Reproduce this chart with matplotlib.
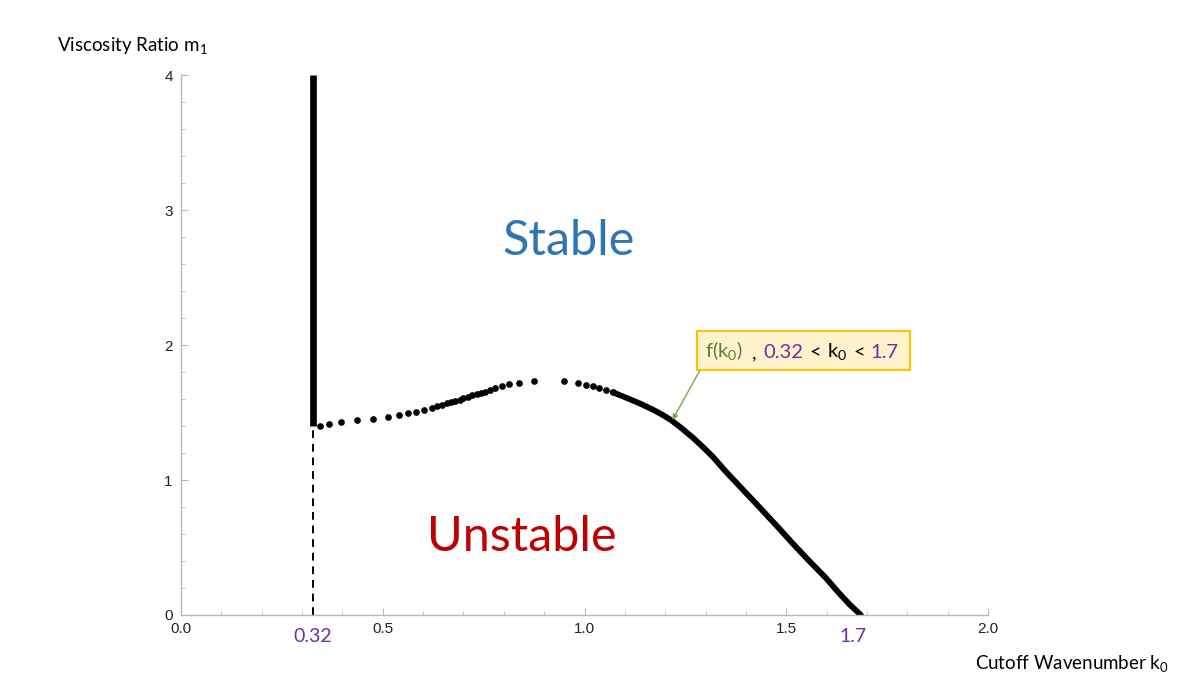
import matplotlib
matplotlib.use("Agg")
import matplotlib.pyplot as plt
from matplotlib.patches import Rectangle
from matplotlib.ticker import MultipleLocator

# Critical wavenumber, its neighbourhood and the stability boundary f(k0)
k_min = 0.328
m_corner = 1.40
m_top = 4.0

# sparse dots (numerical samples) along the boundary
k_dots = [0.344, 0.367, 0.396, 0.436, 0.477, 0.512, 0.540, 0.563, 0.583, 0.602,
          0.621, 0.634, 0.648, 0.659, 0.670, 0.680, 0.691, 0.700, 0.711, 0.722,
          0.733, 0.743, 0.754, 0.766, 0.777, 0.795, 0.814, 0.837, 0.875, 0.948,
          0.983, 1.004, 1.021, 1.037, 1.054, 1.070]
m_dots = [1.400, 1.417, 1.430, 1.444, 1.454, 1.467, 1.481, 1.496, 1.506, 1.519,
          1.533, 1.546, 1.558, 1.568, 1.576, 1.585, 1.595, 1.605, 1.615, 1.627,
          1.637, 1.647, 1.654, 1.667, 1.679, 1.694, 1.709, 1.719, 1.733, 1.733,
          1.719, 1.706, 1.696, 1.684, 1.667, 1.650]

# dense part, drawn as a thick line
k_curve = [1.070, 1.111, 1.140, 1.169, 1.192, 1.215, 1.240, 1.268, 1.295, 1.318,
           1.351, 1.392, 1.433, 1.475, 1.516, 1.557, 1.598, 1.630, 1.658, 1.685]
m_curve = [1.650, 1.600, 1.563, 1.522, 1.485, 1.443, 1.385, 1.315, 1.240, 1.172,
           1.060, 0.930, 0.800, 0.665, 0.530, 0.400, 0.275, 0.165, 0.075, 0.000]

xticks = [0.0, 0.5, 1.0, 1.5, 2.0]
yticks = [0, 1, 2, 3, 4]

W, H = 1199, 677
plt.rcParams['mathtext.fontset'] = 'custom'
plt.rcParams['mathtext.rm'] = 'Lato'

fig = plt.figure(figsize=(W / 100, H / 100), dpi=100)
ax = fig.add_axes([181 / W, 1 - 615 / H, 807 / W, 540 / H])

# boundary pieces
ax.plot([k_min, k_min], [m_corner, m_top], color='black', lw=4.8, solid_capstyle='butt')
ax.plot([k_min, k_min], [0, m_corner], color='black', lw=1.4, dashes=(4, 3))
ax.plot(k_dots, m_dots, 'o', color='black', ms=3.8)
ax.plot(k_curve, m_curve, color='black', lw=4.2, solid_capstyle='round',
        solid_joinstyle='round')

ax.set_xlim(0, 2)
ax.set_ylim(0, 4)
ax.set_xticks(xticks)
ax.set_xticklabels(['0.0', '0.5', '1.0', '1.5', '2.0'])
ax.set_yticks(yticks)
ax.xaxis.set_minor_locator(MultipleLocator(0.1))
ax.yaxis.set_minor_locator(MultipleLocator(0.2))
for s in ['top', 'right']:
    ax.spines[s].set_visible(False)
for s in ['left', 'bottom']:
    ax.spines[s].set_color('#b8b8b8')
    ax.spines[s].set_linewidth(1.0)
ax.tick_params(which='both', direction='in', color='#b8b8b8', labelsize=11,
               labelcolor='#222222')
ax.tick_params(axis='x', pad=5)
ax.tick_params(axis='y', pad=6)
ax.tick_params(which='major', length=5)
ax.tick_params(which='minor', length=3)
for lab in ax.get_xticklabels() + ax.get_yticklabels():
    lab.set_fontfamily('Liberation Sans')

# axis titles
fig.text(57 / W, 1 - 52 / H, r'Viscosity Ratio m$_{\mathregular{1}}$', fontsize=13.5,
         family='Lato', ha='left', va='baseline')
fig.text(975 / W, 1 - 670 / H, r'Cutoff Wavenumber k$_{\mathregular{0}}$', fontsize=13.5,
         family='Lato', ha='left', va='baseline')

# region labels
ax.text(0.96, 2.77, 'Stable', fontsize=35, color='#2E75B6', family='Lato',
        ha='center', va='center')
ax.text(0.845, 0.58, 'Unstable', fontsize=35, color='#C00000', family='Lato',
        ha='center', va='center')

# purple tick markers
fig.text(313 / W, 1 - 642 / H, '0.32', fontsize=14, color='#7030A0', family='Lato',
         ha='center', va='baseline')
fig.text(853 / W, 1 - 642 / H, '1.7', fontsize=14, color='#7030A0', family='Lato',
         ha='center', va='baseline')

# annotation box
fig.add_artist(Rectangle((697 / W, 1 - 370 / H), 213 / W, 39 / H,
                         transform=fig.transFigure, facecolor='#FFF2CC',
                         edgecolor='#FFC000', lw=1.5, zorder=3))
pieces = [(r'f(k$_{\mathregular{0}}$)', '#548235'), (',', 'black'),
          ('0.32', '#7030A0'), ('<', 'black'), (r'k$_{\mathregular{0}}$', 'black'),
          ('<', 'black'), ('1.7', '#7030A0')]
gaps = [9, 7, 6, 6, 6, 6, 0]
renderer = fig.canvas.get_renderer()
x0 = 705
for (txt, col), g in zip(pieces, gaps):
    t = fig.text(x0 / W, 1 - 358 / H, txt, fontsize=14.5, color=col, family='Lato',
                 ha='left', va='baseline', zorder=4)
    x0 += t.get_window_extent(renderer).width + g
ax.annotate('', xy=(1.218, 1.444), xycoords='data',
            xytext=(700, H - 370), textcoords='figure pixels',
            arrowprops=dict(arrowstyle='-|>', color='#70AD47', lw=1,
                            mutation_scale=8, shrinkA=0, shrinkB=0))

fig.savefig('out.png', dpi=100)
